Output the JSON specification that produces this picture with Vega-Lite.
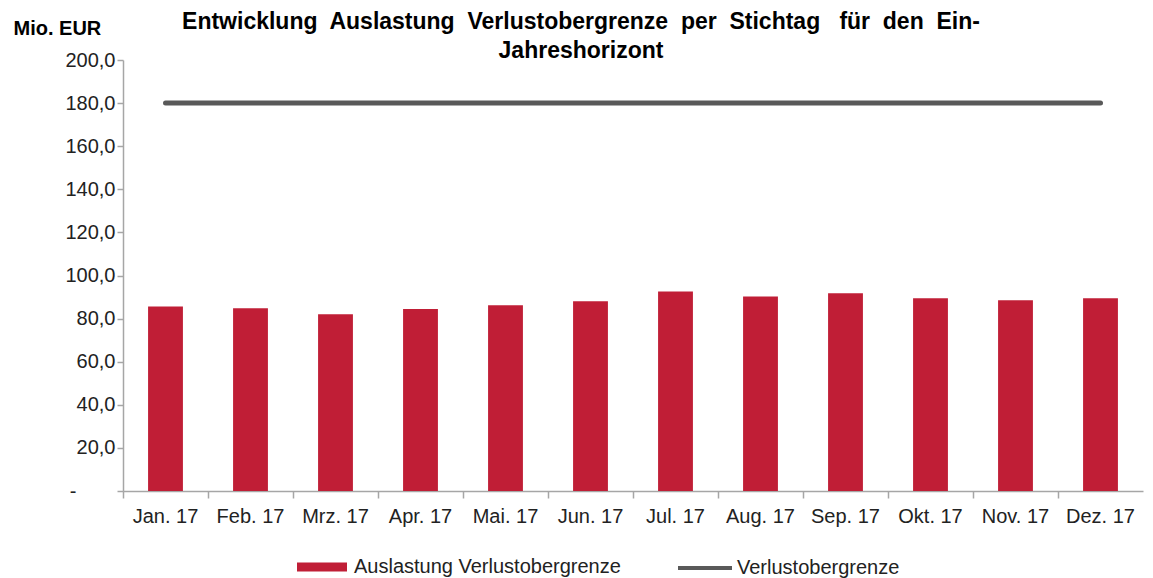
{
  "$schema": "https://vega.github.io/schema/vega-lite/v6.json",
  "width": 1020,
  "height": 431,
  "autosize": {"type": "none"},
  "padding": {"left": 123, "top": 60, "right": 10, "bottom": 87},
  "background": "white",
  "title": {
    "text": ["Entwicklung\u00a0 Auslastung\u00a0 Verlustobergrenze\u00a0 per\u00a0 Stichtag\u00a0 \u00a0für\u00a0 den\u00a0 Ein-", "Jahreshorizont"],
    "font": "Liberation Sans",
    "fontSize": 23,
    "fontWeight": "bold",
    "color": "#000000",
    "anchor": "middle",
    "frame": "group",
    "dx": -52,
    "dy": 47,
    "offset": 2,
    "lineHeight": 29
  },
  "data": {
    "values": [
      {"monat": "Jan. 17", "auslastung": 85.6, "grenze": 180},
      {"monat": "Feb. 17", "auslastung": 84.8, "grenze": 180},
      {"monat": "Mrz. 17", "auslastung": 82.0, "grenze": 180},
      {"monat": "Apr. 17", "auslastung": 84.4, "grenze": 180},
      {"monat": "Mai. 17", "auslastung": 86.2, "grenze": 180},
      {"monat": "Jun. 17", "auslastung": 88.1, "grenze": 180},
      {"monat": "Jul. 17", "auslastung": 92.6, "grenze": 180},
      {"monat": "Aug. 17", "auslastung": 90.3, "grenze": 180},
      {"monat": "Sep. 17", "auslastung": 91.8, "grenze": 180},
      {"monat": "Okt. 17", "auslastung": 89.5, "grenze": 180},
      {"monat": "Nov. 17", "auslastung": 88.5, "grenze": 180},
      {"monat": "Dez. 17", "auslastung": 89.5, "grenze": 180}
    ]
  },
  "resolve": {"axis": {"x": "independent", "y": "independent"}, "legend": {"fill": "independent", "stroke": "independent"}},
  "layer": [
    {
      "mark": {"type": "bar", "width": {"band": 0.41}},
      "encoding": {
        "x": {
          "field": "monat", "type": "nominal", "sort": null,
          "scale": {"paddingInner": 0, "paddingOuter": 0},
          "axis": {
            "orient": "bottom", "title": null, "labelAngle": 0, "ticks": false,
            "labelFont": "Liberation Sans", "labelFontSize": 20, "labelColor": "#222222",
            "labelPadding": 15, "domainColor": "#A6A6A6", "domainWidth": 1.5
          }
        },
        "y": {
          "field": "auslastung", "type": "quantitative",
          "scale": {"domain": [0, 200], "nice": false, "zero": true},
          "axis": {
            "orient": "left",
            "title": "Mio. EUR",
            "titleAngle": 0, "titleAlign": "left", "titleBaseline": "alphabetic",
            "titleX": -110, "titleY": -26,
            "titleFont": "Liberation Sans", "titleFontSize": 20, "titleFontWeight": "bold", "titleColor": "#000000",
            "values": [0, 20, 40, 60, 80, 100, 120, 140, 160, 180, 200],
            "labelExpr": "datum.value == 0 ? '' : replace(format(datum.value, '.1f'), '.', ',')",
            "labelFont": "Liberation Sans", "labelFontSize": 20, "labelColor": "#222222",
            "labelPadding": 2, "tickSize": 6, "tickColor": "#A6A6A6", "tickWidth": 1.5,
            "domainColor": "#A6A6A6", "domainWidth": 1.5, "grid": false
          }
        },
        "fill": {
          "datum": "Auslastung Verlustobergrenze",
          "type": "nominal",
          "scale": {"range": ["#C01E36"]},
          "legend": {
            "title": null, "orient": "none", "legendX": 174, "legendY": 482,
            "symbolType": "M-1,-0.18H1V0.18H-1Z", "symbolSize": 2500, "symbolStrokeWidth": 0,
            "symbolFillColor": "#C01E36", "symbolOpacity": 1, "labelLimit": 500,
            "labelFont": "Liberation Sans", "labelFontSize": 20, "labelColor": "#222222", "labelOffset": 7
          }
        }
      }
    },
    {
      "mark": {"type": "line", "strokeWidth": 5, "strokeCap": "round"},
      "encoding": {
        "x": {
          "field": "monat", "type": "nominal", "sort": null,
          "axis": {
            "orient": "bottom", "title": null, "labels": false, "domain": false,
            "bandPosition": 0, "ticks": true, "tickSize": 7, "tickColor": "#A6A6A6", "tickWidth": 1.5
          }
        },
        "y": {
          "field": "grenze", "type": "quantitative",
          "axis": {
            "orient": "left", "title": null, "values": [0], "labelExpr": "'-'",
            "domain": false, "ticks": false, "tickSize": 0, "grid": false,
            "labelPadding": 47, "labelFont": "Liberation Sans", "labelFontSize": 20, "labelColor": "#222222"
          }
        },
        "stroke": {
          "datum": "Verlustobergrenze",
          "type": "nominal",
          "scale": {"range": ["#595959"]},
          "legend": {
            "title": null, "orient": "none", "legendX": 553, "legendY": 479,
            "symbolType": "stroke", "symbolSize": 2916, "symbolStrokeWidth": 4, "labelLimit": 500,
            "labelFont": "Liberation Sans", "labelFontSize": 20, "labelColor": "#222222", "labelOffset": 3
          }
        }
      }
    }
  ],
  "config": {
    "view": {"stroke": null}
  }
}
